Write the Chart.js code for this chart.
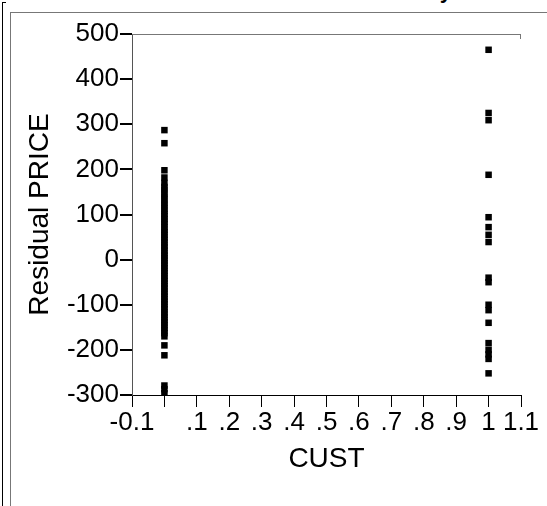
<!DOCTYPE html>
<html>
<head>
<meta charset="utf-8">
<script src="https://cdn.jsdelivr.net/npm/chart.js@4"></script>
<style>
  html, body { margin: 0; padding: 0; background: #fff; overflow: hidden; }
  #wrap { position: relative; width: 547px; height: 506px; }
  #myChart { position: absolute; left: 0; top: 0; }
  .frame { position: absolute; }
  #title { position: absolute; top: -22px; right: 29px; font: bold 22px 'Liberation Sans', Arial, sans-serif; color: #000; white-space: nowrap; }
</style>
</head>
<body>
<div id="wrap">
  <div class="frame" style="left:2px;top:2px;width:1px;height:504px;background:#000"></div>
  <div class="frame" style="left:2px;top:2px;width:4px;height:1px;background:#000"></div>
  <div class="frame" style="left:10px;top:12px;width:1px;height:494px;background:#777"></div>
  <div class="frame" style="left:10px;top:12px;width:537px;height:1px;background:#777"></div>
  <div id="title">Bivariate Fit of Residual PRICE By CUST</div>
  <canvas id="myChart" width="547" height="506"></canvas>
</div>
<script>
// residuals
var custZeroResiduals = [287, 258, 198, 182, 170, 161, 155, 147, 140, 134, 126, 121, 113, 108, 101, 96,
  90, 84, 79, 72, 66, 61, 55, 49, 44, 38, 31, 27, 20, 14, 9, 3, -2, -8, -13, -19, -25, -30, -36,
  -42, -47, -53, -59, -64, -71, -76, -82, -88, -93, -99, -105, -110, -117, -122, -128, -134,
  -139, -145, -151, -157, -163, -170, -190, -212, -279, -287, -296];
var custOneResiduals = [465, 325, 309, 188, 94, 72, 55, 39, -40, -50, -100, -112, -140, -185,
  -200, -210, -220, -252];

var xTickValues = [-0.1, 0, 0.1, 0.2, 0.3, 0.4, 0.5, 0.6, 0.7, 0.8, 0.9, 1, 1.1];
var xTickLabels = ['-0.1', '', '.1', '.2', '.3', '.4', '.5', '.6', '.7', '.8', '.9', '1', '1.1'];
var yTickValues = [-300, -200, -100, 0, 100, 200, 300, 400, 500];

var points = [];
custZeroResiduals.forEach(function (v) { points.push({ x: 0, y: v }); });
custOneResiduals.forEach(function (v) { points.push({ x: 1, y: v }); });

var tickFont = { family: 'Liberation Sans', size: 26 };
var titleFont = { family: 'Liberation Sans', size: 28 };

// gray top edge of the plot frame
var topEdge = {
    id: 'topEdge',
    afterDraw: function (chart) {
        var a = chart.chartArea;
        var c = chart.ctx;
        c.save();
        c.strokeStyle = '#777';
        c.lineWidth = 1;
        c.beginPath();
        c.moveTo(a.left, a.top + 0.5);
        c.lineTo(a.right, a.top + 0.5);
        c.moveTo(a.right - 0.5, a.top);
        c.lineTo(a.right - 0.5, a.top + 5);
        c.stroke();
        c.restore();
    }
};

window.onload = function () {
    var ctx = document.getElementById('myChart').getContext('2d');
    new Chart(ctx, {
        type: 'scatter',
        data: {
            datasets: [{
                data: points,
                pointStyle: 'rect',
                pointRadius: 4.6,
                pointBorderWidth: 0,
                backgroundColor: '#000'
            }]
        },
        options: {
            responsive: false,
            animation: false,
            layout: { padding: { top: 34, right: 26, left: 0, bottom: 0 } },
            plugins: { legend: { display: false }, tooltip: { enabled: false } },
            scales: {
                x: {
                    type: 'linear',
                    min: -0.1,
                    max: 1.1,
                    afterBuildTicks: function (axis) {
                        axis.ticks = xTickValues.map(function (v) { return { value: v }; });
                    },
                    afterFit: function (scale) { scale.height = 111; },
                    ticks: {
                        autoSkip: false,
                        maxRotation: 0,
                        color: '#000',
                        font: tickFont,
                        padding: 0,
                        callback: function (value, index) { return xTickLabels[index]; }
                    },
                    grid: { drawOnChartArea: false, tickLength: 12, color: '#000' },
                    border: { color: '#000' },
                    title: { display: true, text: 'CUST', color: '#000', font: titleFont, padding: { top: 0, bottom: 30 } }
                },
                y: {
                    min: -300,
                    max: 500,
                    afterBuildTicks: function (axis) {
                        axis.ticks = yTickValues.map(function (v) { return { value: v }; });
                    },
                    afterFit: function (scale) { scale.width = 132; },
                    ticks: { color: '#000', font: tickFont, padding: 1 },
                    grid: { drawOnChartArea: false, tickLength: 12, lineWidth: 2, color: '#000' },
                    border: { color: '#555', width: 1 },
                    title: { display: true, text: 'Residual PRICE', color: '#000', font: titleFont, padding: { top: 23, bottom: 0 } }
                }
            }
        },
        plugins: [topEdge]
    });
};
</script>
</body>
</html>
